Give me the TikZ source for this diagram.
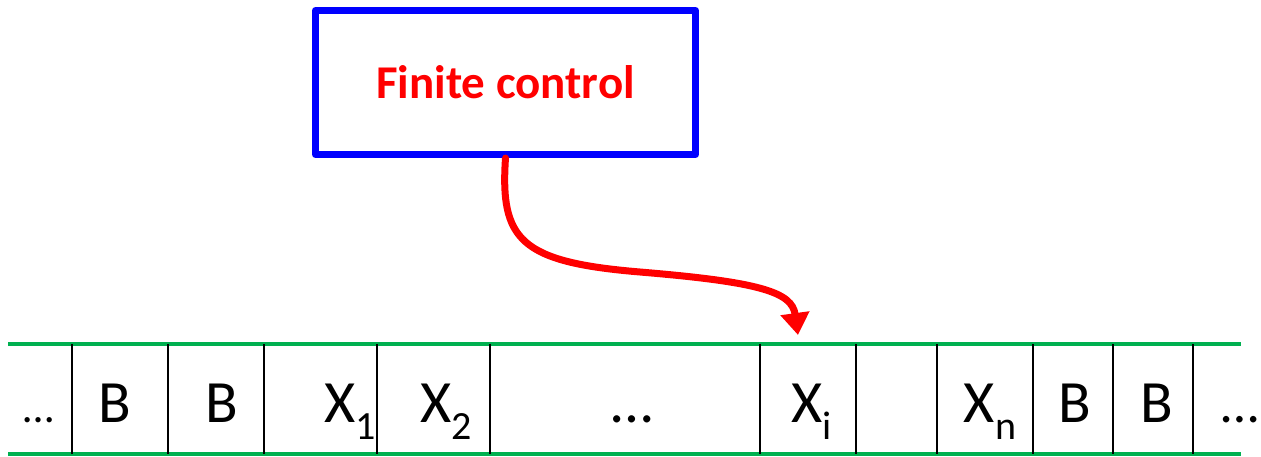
\documentclass[tikz,border=0pt]{standalone}
\usepackage{fontspec}
\setmainfont{Carlito}
\usetikzlibrary{arrows.meta}
\definecolor{tapegreen}{RGB}{0,176,80}
% lowered index on a tape symbol
\newcommand\tapesub[1]{\raisebox{-17pt}{\fontsize{40}{40}\selectfont #1}}
% dots at the tape ends
\newcommand\tapedots[1]{{\fontsize{#1}{#1}\selectfont …}}
\begin{document}
\begin{tikzpicture}[x=1pt,y=-1pt,line join=round,line cap=round,>=Stealth]
	\useasboundingbox (0,0) rectangle (1261,456);
	\def\ty{344}
	\def\by{454}
	\path
	(8,\ty) coordinate (TL)
	(1241,\ty) coordinate (TR)
	(8,\by) coordinate (BL)
	(1241,\by) coordinate (BR)
	(798,335) coordinate (H)
	;
	% finite control
	\node[draw=blue, line width=7pt, minimum width=380pt, minimum height=144pt,
		text=red, font=\bfseries\fontsize{47}{47}\selectfont] (ctrl) at (505.5,82.5) {Finite control};
	% tape
	\draw[tapegreen, line width=4.5pt, line cap=butt]
	(TL)--(TR)
	(BL)--(BR)
	;
	\foreach \x in {72,168,264,377,490,760,856,937,1033,1113,1193}
	\draw[line width=1.8pt, line cap=butt] (\x,\ty)--(\x,\by);
	\foreach \x/\t [count=\i] in {39/\tapedots{44},115/B,222/B,350/X\tapesub{1},446/X\tapesub{2},632/…,
		812/X\tapesub{i},990/X\tapesub{n},1075/B,1157/B,1240/\tapedots{54}}
	\node[anchor=base, font=\fontsize{60}{60}\selectfont, inner sep=0pt] (c\i) at (\x,422) {\t};
	% head
	\draw[red, line width=7pt, -{Triangle[width=28pt,length=22pt]}]
	(ctrl.south) .. controls (500,240) and (520,262) .. (640,272)
	.. controls (760,282) and (792,292) .. (H);
\end{tikzpicture}
\end{document}
